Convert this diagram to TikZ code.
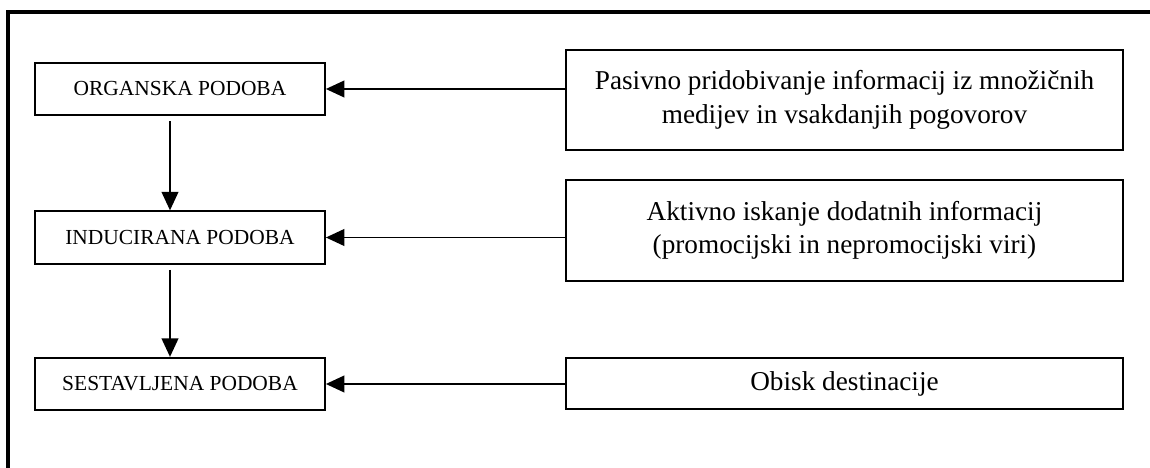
\documentclass[tikz,border=0pt]{standalone}
\usepackage{fontspec}
\setmainfont{Liberation Serif}
\usetikzlibrary{arrows.meta}

\begin{document}
\begin{tikzpicture}[
    leftbox/.style={draw, line width=1pt, minimum width=5.8cm, minimum height=1.05cm, inner sep=0pt, font=\fontsize{12.2}{14}\selectfont},
    rightbox/.style={draw, line width=1pt, minimum width=11.14cm, inner sep=0pt, align=center, font=\fontsize{15.5}{19}\selectfont},
    arr/.style={line width=1pt, -{Triangle[length=10.5pt,width=9.5pt]}}
]

    \useasboundingbox (0,0) rectangle (23,-9.36);
    % Outer frame, only the top and left sides are visible
    \draw[line width=2.2pt] (23.2,-0.24) -- (0.16,-0.24) -- (0.16,-9.5);

    % Stages of the image on the left
    \node[leftbox] (organska) at (3.6,-1.78) {ORGANSKA PODOBA};
    \node[leftbox] (inducirana) at (3.6,-4.75) {INDUCIRANA PODOBA};
    \node[leftbox] (sestavljena) at (3.6,-7.68) {SESTAVLJENA PODOBA};

    % Sources of information on the right
    \node[rightbox, minimum height=2cm] (pasivno) at (16.89,-2.0) {Pasivno pridobivanje informacij iz množičnih\\medijev in vsakdanjih pogovorov};
    \node[rightbox, minimum height=2.02cm] (aktivno) at (16.89,-4.61) {Aktivno iskanje dodatnih informacij\\(promocijski in nepromocijski viri)};
    \node[rightbox, minimum height=1.02cm] (obisk) at (16.89,-7.67) {Obisk destinacije};

    % Arrows from the sources to the stages
    \foreach \src/\dst in {pasivno/organska, aktivno/inducirana, obisk/sestavljena} {
        \draw[arr] (\src.west |- \dst.east) -- (\dst.east);
    }
    % Arrows between the stages
    \draw[arr, shorten <=3pt] ([xshift=-0.2cm]organska.south) -- ([xshift=-0.2cm]inducirana.north);
    \draw[arr, shorten <=3pt] ([xshift=-0.2cm]inducirana.south) -- ([xshift=-0.2cm]sestavljena.north);
\end{tikzpicture}
\end{document}
